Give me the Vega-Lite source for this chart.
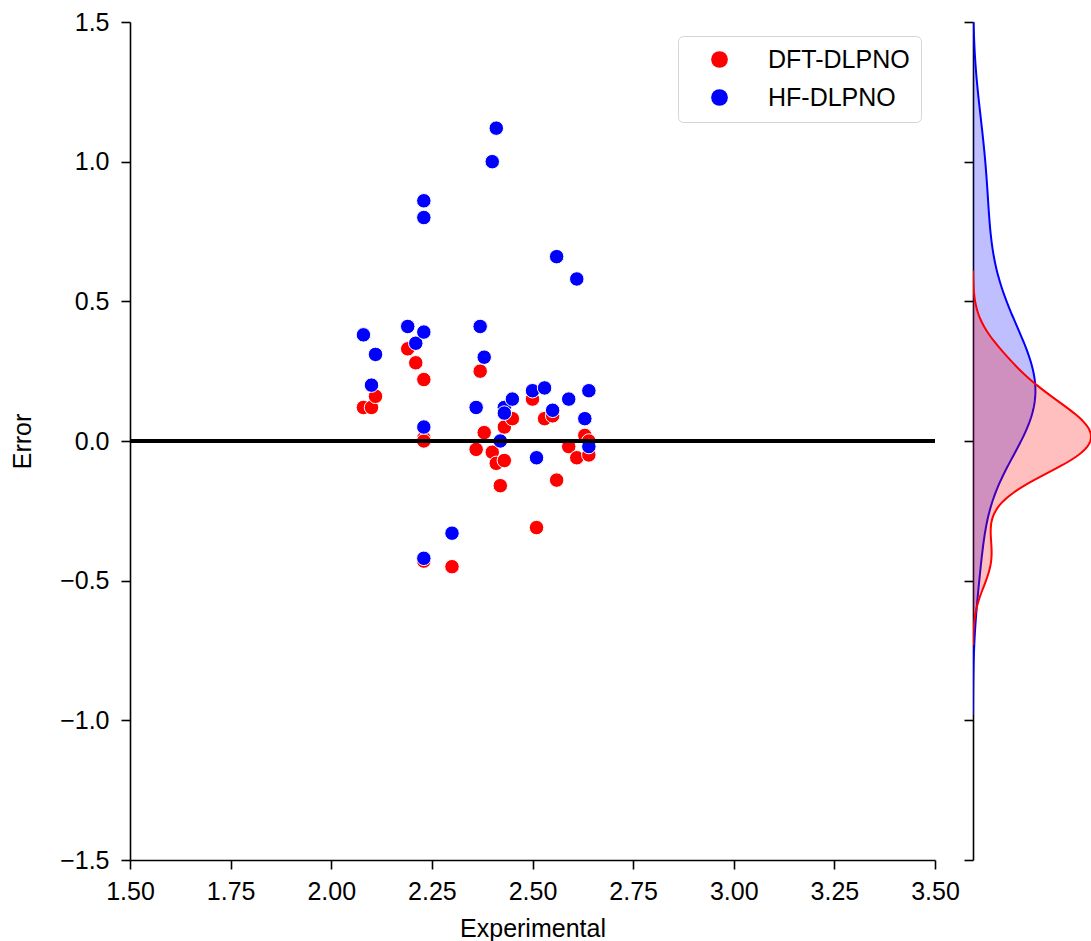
{
  "$schema": "https://vega.github.io/schema/vega-lite/v6.json",
  "padding": {"left": 10, "top": 10, "right": 0, "bottom": 0},
  "background": "white",
  "spacing": 3,
  "resolve": {"legend": {"color": "independent"}},
  "config": {
    "view": {"stroke": null},
    "font": "Liberation Sans",
    "axis": {
      "labelFont": "Liberation Sans", "titleFont": "Liberation Sans",
      "labelFontSize": 25, "titleFontSize": 25, "titleFontWeight": "normal",
      "labelColor": "#000", "titleColor": "#000",
      "domainColor": "#000", "tickColor": "#000", "domainWidth": 1.6, "tickWidth": 1.6,
      "tickSize": 9, "grid": false
    },
    "legend": {"labelFont": "Liberation Sans"}
  },
  "datasets": {
    "pts": [
      {"Experimental": 2.08, "Error": 0.12, "Method": "DFT-DLPNO"},
      {"Experimental": 2.10, "Error": 0.12, "Method": "DFT-DLPNO"},
      {"Experimental": 2.11, "Error": 0.16, "Method": "DFT-DLPNO"},
      {"Experimental": 2.19, "Error": 0.33, "Method": "DFT-DLPNO"},
      {"Experimental": 2.21, "Error": 0.28, "Method": "DFT-DLPNO"},
      {"Experimental": 2.23, "Error": 0.22, "Method": "DFT-DLPNO"},
      {"Experimental": 2.23, "Error": 0.01, "Method": "DFT-DLPNO"},
      {"Experimental": 2.23, "Error": 0.00, "Method": "DFT-DLPNO"},
      {"Experimental": 2.23, "Error": -0.43, "Method": "DFT-DLPNO"},
      {"Experimental": 2.30, "Error": -0.45, "Method": "DFT-DLPNO"},
      {"Experimental": 2.37, "Error": 0.25, "Method": "DFT-DLPNO"},
      {"Experimental": 2.38, "Error": 0.03, "Method": "DFT-DLPNO"},
      {"Experimental": 2.36, "Error": -0.03, "Method": "DFT-DLPNO"},
      {"Experimental": 2.40, "Error": -0.04, "Method": "DFT-DLPNO"},
      {"Experimental": 2.41, "Error": -0.08, "Method": "DFT-DLPNO"},
      {"Experimental": 2.43, "Error": -0.07, "Method": "DFT-DLPNO"},
      {"Experimental": 2.42, "Error": -0.16, "Method": "DFT-DLPNO"},
      {"Experimental": 2.43, "Error": 0.05, "Method": "DFT-DLPNO"},
      {"Experimental": 2.45, "Error": 0.08, "Method": "DFT-DLPNO"},
      {"Experimental": 2.50, "Error": 0.15, "Method": "DFT-DLPNO"},
      {"Experimental": 2.51, "Error": -0.31, "Method": "DFT-DLPNO"},
      {"Experimental": 2.53, "Error": 0.08, "Method": "DFT-DLPNO"},
      {"Experimental": 2.55, "Error": 0.09, "Method": "DFT-DLPNO"},
      {"Experimental": 2.56, "Error": -0.14, "Method": "DFT-DLPNO"},
      {"Experimental": 2.59, "Error": -0.02, "Method": "DFT-DLPNO"},
      {"Experimental": 2.61, "Error": -0.06, "Method": "DFT-DLPNO"},
      {"Experimental": 2.63, "Error": 0.02, "Method": "DFT-DLPNO"},
      {"Experimental": 2.64, "Error": 0.00, "Method": "DFT-DLPNO"},
      {"Experimental": 2.64, "Error": -0.05, "Method": "DFT-DLPNO"},
      {"Experimental": 2.08, "Error": 0.38, "Method": "HF-DLPNO"},
      {"Experimental": 2.11, "Error": 0.31, "Method": "HF-DLPNO"},
      {"Experimental": 2.10, "Error": 0.20, "Method": "HF-DLPNO"},
      {"Experimental": 2.19, "Error": 0.41, "Method": "HF-DLPNO"},
      {"Experimental": 2.21, "Error": 0.35, "Method": "HF-DLPNO"},
      {"Experimental": 2.23, "Error": 0.39, "Method": "HF-DLPNO"},
      {"Experimental": 2.23, "Error": 0.86, "Method": "HF-DLPNO"},
      {"Experimental": 2.23, "Error": 0.80, "Method": "HF-DLPNO"},
      {"Experimental": 2.23, "Error": 0.05, "Method": "HF-DLPNO"},
      {"Experimental": 2.23, "Error": -0.42, "Method": "HF-DLPNO"},
      {"Experimental": 2.30, "Error": -0.33, "Method": "HF-DLPNO"},
      {"Experimental": 2.37, "Error": 0.41, "Method": "HF-DLPNO"},
      {"Experimental": 2.38, "Error": 0.30, "Method": "HF-DLPNO"},
      {"Experimental": 2.36, "Error": 0.12, "Method": "HF-DLPNO"},
      {"Experimental": 2.40, "Error": 1.00, "Method": "HF-DLPNO"},
      {"Experimental": 2.41, "Error": 1.12, "Method": "HF-DLPNO"},
      {"Experimental": 2.42, "Error": 0.00, "Method": "HF-DLPNO"},
      {"Experimental": 2.43, "Error": 0.12, "Method": "HF-DLPNO"},
      {"Experimental": 2.43, "Error": 0.10, "Method": "HF-DLPNO"},
      {"Experimental": 2.45, "Error": 0.15, "Method": "HF-DLPNO"},
      {"Experimental": 2.50, "Error": 0.18, "Method": "HF-DLPNO"},
      {"Experimental": 2.51, "Error": -0.06, "Method": "HF-DLPNO"},
      {"Experimental": 2.53, "Error": 0.19, "Method": "HF-DLPNO"},
      {"Experimental": 2.55, "Error": 0.11, "Method": "HF-DLPNO"},
      {"Experimental": 2.56, "Error": 0.66, "Method": "HF-DLPNO"},
      {"Experimental": 2.59, "Error": 0.15, "Method": "HF-DLPNO"},
      {"Experimental": 2.61, "Error": 0.58, "Method": "HF-DLPNO"},
      {"Experimental": 2.64, "Error": 0.18, "Method": "HF-DLPNO"},
      {"Experimental": 2.63, "Error": 0.08, "Method": "HF-DLPNO"},
      {"Experimental": 2.64, "Error": -0.02, "Method": "HF-DLPNO"}
    ]
  },
  "hconcat": [
    {
      "width": 805,
      "height": 838,
      "data": {"name": "pts"},
      "layer": [
        {
          "mark": {"type": "point", "shape": "circle", "filled": true, "opacity": 1, "size": 210, "stroke": "white", "strokeWidth": 1},
          "encoding": {
            "x": {"field": "Experimental", "type": "quantitative",
                  "scale": {"domain": [1.5, 3.5], "nice": false, "zero": false},
                  "axis": {"values": [1.5, 1.75, 2.0, 2.25, 2.5, 2.75, 3.0, 3.25, 3.5], "format": ".2f", "labelPadding": 10, "titlePadding": 12, "labelFlush": false}},
            "y": {"field": "Error", "type": "quantitative",
                  "scale": {"domain": [-1.5, 1.5], "nice": false, "zero": false},
                  "axis": {"values": [-1.5, -1.0, -0.5, 0.0, 0.5, 1.0, 1.5], "format": ".1f", "labelPadding": 12, "titlePadding": 24, "labelFlush": false}},
            "color": {"field": "Method", "type": "nominal",
                      "scale": {"domain": ["DFT-DLPNO", "HF-DLPNO"], "range": ["#ff0000", "#0000ff"]},
                      "legend": {"title": null, "orient": "top-right", "offset": 14, "padding": 11,
                                 "strokeColor": "#d5d5d5", "cornerRadius": 5, "fillColor": "white",
                                 "symbolType": "circle", "symbolSize": 280, "symbolStrokeWidth": 0, "symbolOffset": 18,
                                 "labelFontSize": 25, "labelOffset": 36, "rowPadding": 12, "labelColor": "#000"}}
          }
        },
        {
          "mark": {"type": "rule", "color": "#000", "strokeWidth": 4},
          "encoding": {"y": {"datum": 0, "type": "quantitative", "scale": {"domain": [-1.5, 1.5], "nice": false, "zero": false}}}
        }
      ]
    },
    {
      "width": 118,
      "height": 838,
      "data": {"name": "pts"},
      "layer": [
        {
          "transform": [
            {"filter": "datum.Method === 'HF-DLPNO'"},
            {"density": "Error", "bandwidth": 0.187, "extent": [-0.98, 1.68], "steps": 300, "as": ["Error", "density"]}
          ],
          "mark": {"type": "area", "orient": "horizontal", "color": "#0000ff", "opacity": 0.25, "clip": true},
          "encoding": {
            "y": {"field": "Error", "type": "quantitative", "scale": {"domain": [-1.5, 1.5], "nice": false, "zero": false},
                  "axis": {"values": [-1.5, -1.0, -0.5, 0.0, 0.5, 1.0, 1.5], "labels": false, "title": null}},
            "x": {"field": "density", "type": "quantitative", "stack": null, "scale": {"nice": false, "zero": true}, "axis": null}
          }
        },
        {
          "transform": [
            {"filter": "datum.Method === 'HF-DLPNO'"},
            {"density": "Error", "bandwidth": 0.187, "extent": [-0.98, 1.68], "steps": 300, "as": ["Error", "density"]}
          ],
          "mark": {"type": "line", "orient": "horizontal", "color": "#0000ff", "strokeWidth": 2, "clip": true},
          "encoding": {
            "y": {"field": "Error", "type": "quantitative", "scale": {"domain": [-1.5, 1.5], "nice": false, "zero": false}},
            "x": {"field": "density", "type": "quantitative"}
          }
        },
        {
          "transform": [
            {"filter": "datum.Method === 'DFT-DLPNO'"},
            {"density": "Error", "bandwidth": 0.093, "extent": [-0.73, 0.61], "steps": 300, "as": ["Error", "density"]}
          ],
          "mark": {"type": "area", "orient": "horizontal", "color": "#ff0000", "opacity": 0.25, "clip": true},
          "encoding": {
            "y": {"field": "Error", "type": "quantitative", "scale": {"domain": [-1.5, 1.5], "nice": false, "zero": false}},
            "x": {"field": "density", "type": "quantitative", "stack": null}
          }
        },
        {
          "transform": [
            {"filter": "datum.Method === 'DFT-DLPNO'"},
            {"density": "Error", "bandwidth": 0.093, "extent": [-0.73, 0.61], "steps": 300, "as": ["Error", "density"]}
          ],
          "mark": {"type": "line", "orient": "horizontal", "color": "#ff0000", "strokeWidth": 2, "clip": true},
          "encoding": {
            "y": {"field": "Error", "type": "quantitative", "scale": {"domain": [-1.5, 1.5], "nice": false, "zero": false}},
            "x": {"field": "density", "type": "quantitative"}
          }
        }
      ]
    }
  ]
}
